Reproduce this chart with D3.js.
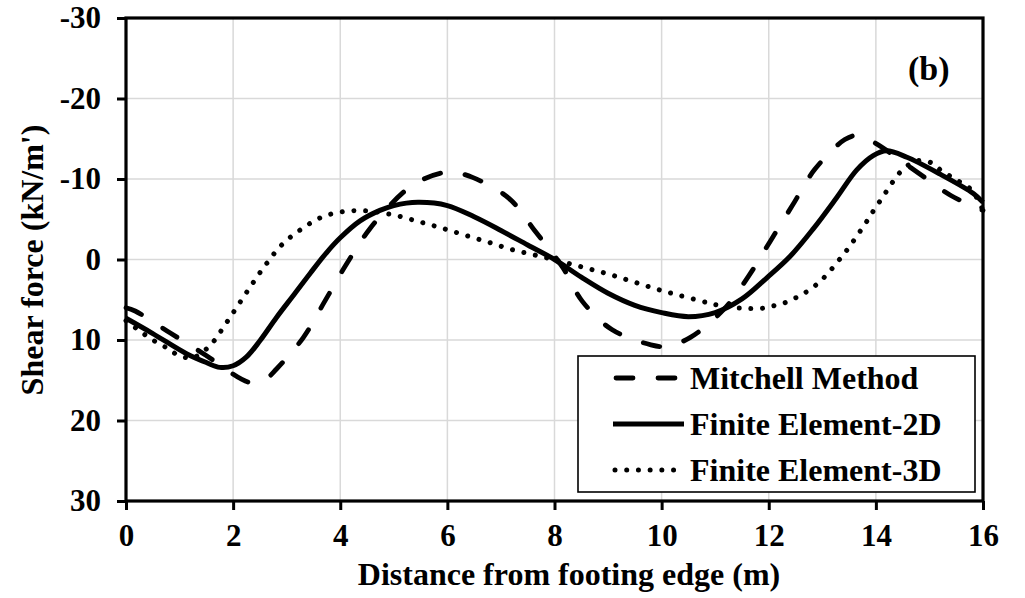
<!DOCTYPE html>
<html>
<head>
<meta charset="utf-8">
<script src="https://cdn.jsdelivr.net/npm/d3@7"></script>
<style>
  html, body { margin: 0; padding: 0; background: #fff; }
  svg { display: block; }
  text { font-family: "Times New Roman", "Liberation Serif", serif; font-weight: bold; fill: #000; }
</style>
</head>
<body>
<svg id="chart" width="1025" height="598"></svg>
<script>
// Shear force along the footing, three calculation methods
const xTicks = [0, 2, 4, 6, 8, 10, 12, 14, 16];
const yTicks = [-30, -20, -10, 0, 10, 20, 30];

const mitchellX = [0, 0.17, 0.82, 1.49, 2.14, 2.35, 2.6, 2.81, 3.31, 3.71, 4.1, 4.55, 5.17, 5.5, 5.86, 6.1, 6.47, 7.15, 7.64, 8.15, 8.52, 9.07, 9.8, 10.1, 10.53, 11.16, 11.63, 12.04, 12.44, 12.86, 13.42, 13.65, 13.95, 14.74, 15.4, 16];
const mitchellV = [6.0, 6.4, 9.1, 11.9, 14.8, 15.3, 14.9, 13.6, 9.7, 5.2, 0.75, -3.8, -8.3, -9.8, -10.7, -10.85, -10.2, -7.6, -3.5, 0.95, 5.2, 8.7, 10.6, 10.8, 9.7, 6.2, 2.0, -2.4, -6.7, -11.2, -14.9, -15.4, -14.6, -11.0, -7.95, -6.1];

const fe2dX = [0, 0.5, 1.13, 1.5, 1.75, 2.0, 2.25, 2.5, 2.81, 3.12, 3.44, 3.75, 4.0, 4.37, 4.74, 5.0, 5.45, 6.0, 6.5, 7.0, 7.5, 8.0, 8.5, 9.0, 9.5, 10.0, 10.5, 11.0, 11.5, 11.96, 12.4, 12.83, 13.27, 13.64, 13.95, 14.2, 14.58, 15.2, 15.82, 16];
const fe2dV = [7.3, 9.2, 11.7, 12.8, 13.4, 13.2, 12.1, 10.1, 7.2, 4.5, 1.7, -0.9, -2.7, -4.8, -6.1, -6.7, -7.1, -6.7, -5.3, -3.6, -1.8, 0.0, 2.2, 4.2, 5.7, 6.6, 7.1, 6.6, 4.9, 2.3, -0.4, -3.8, -7.7, -11.1, -12.9, -13.5, -12.7, -10.6, -8.2, -7.1];

const fe3dX = [0, 0.2, 0.5, 0.79, 0.98, 1.25, 1.58, 1.85, 2.11, 2.36, 2.63, 2.92, 3.28, 3.67, 4.12, 4.57, 5.02, 5.47, 5.9, 6.34, 6.79, 7.22, 7.67, 8.1, 8.55, 9.0, 9.44, 9.87, 10.3, 10.76, 11.0, 11.4, 11.66, 11.9, 12.12, 12.33, 12.55, 12.74, 12.93, 13.08, 13.24, 13.38, 13.52, 13.65, 13.78, 13.9, 14.03, 14.16, 14.28, 14.42, 14.6, 14.8, 15.04, 15.23, 15.5, 15.79, 16];
const fe3dV = [7.6, 8.6, 10.0, 11.1, 11.9, 12.2, 10.6, 8.1, 5.5, 3.0, 0.45, -1.9, -3.8, -5.3, -6.0, -6.0, -5.5, -4.7, -3.9, -3.0, -2.1, -1.2, -0.5, 0.2, 1.0, 1.8, 2.7, 3.6, 4.4, 5.2, 5.6, 6.0, 6.1, 6.05, 5.7, 5.3, 4.6, 3.85, 2.9, 1.9, 0.66, -0.5, -1.7, -3.0, -4.2, -5.5, -6.8, -8.1, -9.3, -10.6, -11.7, -12.3, -12.0, -11.0, -9.9, -8.6, -6.1];

const seriesNames = ["Mitchell Method", "Finite Element-2D", "Finite Element-3D"];

const svg = d3.select("#chart");
const plotL = 126, plotR = 983, plotT = 18, plotB = 501;

const x = d3.scaleLinear().domain([0, 16]).range([plotL, plotR]);
const y = d3.scaleLinear().domain([-30, 30]).range([plotT, plotB]);

// grid
const grid = svg.append("g");
grid.selectAll(".gx").data(xTicks.slice(1, -1)).join("line")
  .attr("x1", d => x(d)).attr("x2", d => x(d))
  .attr("y1", plotT).attr("y2", plotB)
  .attr("stroke", "#d9d9d9").attr("stroke-width", 1.5);
grid.selectAll(".gy").data(yTicks.slice(1, -1)).join("line")
  .attr("x1", plotL).attr("x2", plotR)
  .attr("y1", d => y(d)).attr("y2", d => y(d))
  .attr("stroke", "#d9d9d9").attr("stroke-width", 1.5);

// axes (plain hyphen-minus in tick labels)
const fmt = d => String(d);
const xAxis = svg.append("g").attr("transform", `translate(0,${plotB})`)
  .call(d3.axisBottom(x).tickValues(xTicks).tickSize(9).tickPadding(14).tickFormat(fmt));
const yAxis = svg.append("g").attr("transform", `translate(${plotL},0)`)
  .call(d3.axisLeft(y).tickValues(yTicks).tickSize(9).tickPadding(16).tickFormat(fmt));
[xAxis, yAxis].forEach(a => {
  a.select(".domain").remove();
  a.selectAll(".tick line").attr("stroke", "#000").attr("stroke-width", 3);
  a.selectAll(".tick text").style("font-size", "31px").style("font-family", "'Times New Roman','Liberation Serif',serif").style("font-weight", "bold").attr("fill", "#000");
});
xAxis.selectAll(".tick text").attr("dy", "0.71em");

// plot frame
svg.append("rect").attr("x", plotL).attr("y", plotT)
  .attr("width", plotR - plotL).attr("height", plotB - plotT)
  .attr("fill", "none").attr("stroke", "#000").attr("stroke-width", 3.2);

// curves
const styles = [
  { dash: "17,25", cap: "round", w: 4.8 },
  { dash: null, cap: "butt", w: 5 },
  { dash: "0.01,11.7", cap: "round", w: 5 }
];
const data = [
  mitchellX.map((d, i) => [d, mitchellV[i]]),
  fe2dX.map((d, i) => [d, fe2dV[i]]),
  fe3dX.map((d, i) => [d, fe3dV[i]])
];
const line = d3.line().x(d => x(d[0])).y(d => y(d[1])).curve(d3.curveCatmullRom.alpha(0.5));
svg.append("g").selectAll("path").data(data).join("path")
  .attr("d", line)
  .attr("fill", "none").attr("stroke", "#000")
  .attr("stroke-width", (d, i) => styles[i].w)
  .attr("stroke-linecap", (d, i) => styles[i].cap)
  .attr("stroke-dasharray", (d, i) => styles[i].dash);

// panel label
svg.append("text").attr("x", 908).attr("y", 80).style("font-size", "34px").text("(b)");

// axis titles
svg.append("text").attr("x", 569).attr("y", 585).attr("text-anchor", "middle")
  .style("font-size", "32px").text("Distance from footing edge (m)");
svg.append("text").attr("transform", "translate(43,260) rotate(-90)").attr("text-anchor", "middle")
  .style("font-size", "32px").text("Shear force (kN/m')");

// legend
const legend = svg.append("g");
legend.append("rect").attr("x", 578).attr("y", 356).attr("width", 397).attr("height", 136)
  .attr("fill", "#fff").attr("stroke", "#000").attr("stroke-width", 1.6);
const rowY = [378, 424, 470];
const sampleX1 = [616, 613, 615];
seriesNames.forEach((name, i) => {
  legend.append("line").attr("x1", sampleX1[i]).attr("x2", 684).attr("y1", rowY[i]).attr("y2", rowY[i])
    .attr("stroke", "#000").attr("stroke-width", styles[i].w)
    .attr("stroke-linecap", styles[i].cap).attr("stroke-dasharray", styles[i].dash);
  legend.append("text").attr("x", 690).attr("y", rowY[i] + 11)
    .style("font-size", "32px").text(name);
});
</script>
</body>
</html>
